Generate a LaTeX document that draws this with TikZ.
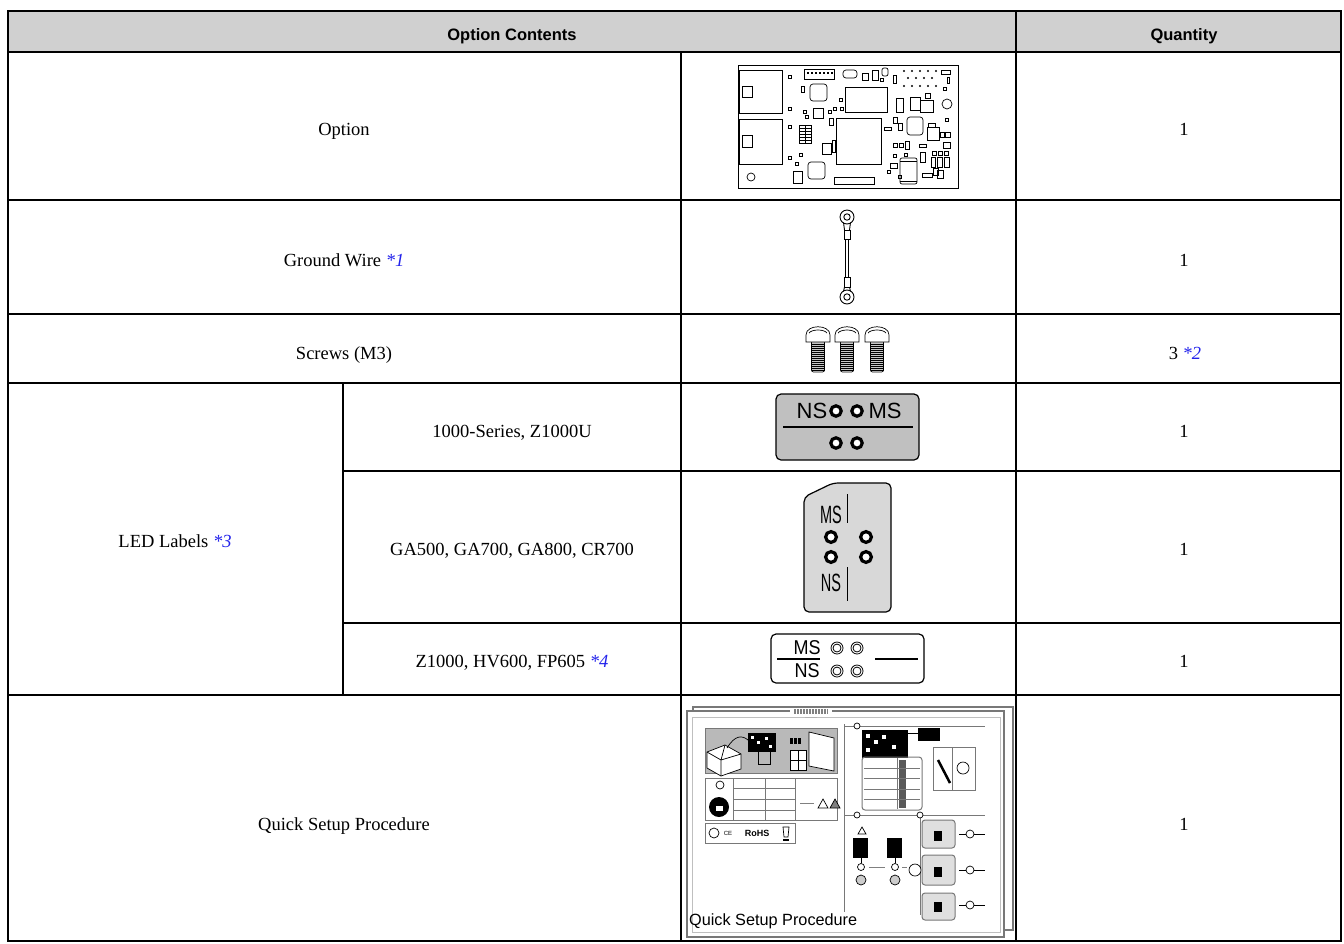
\documentclass[tikz,border=0pt]{standalone}
\usepackage{fontspec}
\setmainfont{Liberation Serif}
\setsansfont{Liberation Sans}
\usetikzlibrary{positioning}
\definecolor{headgray}{RGB}{208,208,208}
\definecolor{noteblue}{RGB}{35,35,235}
\definecolor{labgray}{RGB}{192,192,192}
\definecolor{lablight}{RGB}{216,216,216}
\definecolor{sheetgray}{RGB}{120,120,120}
\tikzset{
  rule/.style={line width=2.6pt},
  celltext/.style={font=\fontsize{18.5}{22}\selectfont, text height=12.3pt, text depth=0pt},
  headtext/.style={font=\sffamily\bfseries\fontsize{16.5}{20}\selectfont, text height=11.8pt, text depth=0pt},
  ledtext/.style={font=\sffamily\fontsize{22}{24}\selectfont, inner sep=0pt},
  ledhole/.style={line width=3.2pt, fill=white},
  part/.style={line width=0.7pt},
  qsline/.style={sheetgray, line width=1pt},
}
\newcommand{\noteref}[1]{\textcolor{noteblue}{\textit{*#1}}}
\begin{document}
\begin{tikzpicture}[x=1pt,y=-1pt]
\useasboundingbox (0,0) rectangle (1344,943);
% header band and table rules
\fill[headgray] (8,11) rectangle (1341,52);
\draw[rule] (8,11) rectangle (1341,941);
\foreach \y in {52,200,314,383,695} \draw[rule] (8,\y) -- (1341,\y);
\foreach \y in {471,623} \draw[rule] (343,\y) -- (1341,\y);
\draw[rule] (1016,11) -- (1016,941);
\draw[rule] (681,52) -- (681,941);
\draw[rule] (343,383) -- (343,695);

% texts
\node[headtext] (hcont) at (512,35) {Option Contents};
\node[headtext] (hqty) at (1184,35) {Quantity};
\node[celltext] (topt) at (344,129) {Option};
\node[celltext] (tgnd) at (344,260) {Ground Wire \noteref{1}};
\node[celltext] (tscr) at (344,353) {Screws (M3)};
\node[celltext] (tled) at (175,541) {LED Labels \noteref{3}};
\node[celltext] (tsera) at (512,431) {1000-Series, Z1000U};
\node[celltext] (tserb) at (512,549) {GA500, GA700, GA800, CR700};
\node[celltext] (tserc) at (512,661) {Z1000, HV600, FP605 \noteref{4}};
\node[celltext] (tqsp) at (344,824) {Quick Setup Procedure};
\foreach \y/\nm in {129/qa,260/qb,431/qd,549/qe,661/qf,824/qg}
  \node[celltext] (\nm) at (1184,\y) {1};
\node[celltext] (qc) at (1185,353) {3 \noteref{2}};

% option board
\draw[part] (738,65) rectangle (958,188);
\draw[part] (739,70) rectangle (782,113);
\draw[part] (739,119) rectangle (782,164);
\draw[part] (742,86) rectangle (752,97);
\draw[part] (742,135) rectangle (752,147);
\draw[part] (804,69) rectangle (834,79);
\foreach \x in {807,811,...,831} \fill (\x,72) rectangle +(2,2);
\draw[part] (845,87) rectangle (887,112);
\draw[part] (836,118) rectangle (881,164);
\draw[part,rounded corners=3] (810,84) rectangle (827,101);
\draw[part,rounded corners=3] (808,162) rectangle (825,179);
\draw[part,rounded corners=3] (907,117) rectangle (923,135);
\draw[part] (834,177) rectangle (874,184);
\draw[part] (751,177) circle (4);
\draw[part] (947,104) circle (5);
\draw[part,rounded corners=2] (900,158) rectangle (917,184);
\draw[part] (900,161) -- (917,161) (900,181) -- (917,181);
\foreach \x in {904,912,...,936} \foreach \y in {71,86} \fill (\x,\y) circle (1.2);
\foreach \x in {908,916,...,932} \fill (\x,78) circle (1.2);
\draw[part] (799,125) rectangle (811,143);
\foreach \y in {128,131,...,140} \draw[part] (799,\y) -- (811,\y);
\draw[part] (805,125) -- (805,143);
\foreach \xa/\ya/\xb/\yb in {788/75/791/78, 788/107/791/110, 788/125/791/128, 788/156/791/159,
  801/86/804/92, 813/108/823/118, 803/110/806/113, 805/115/808/118, 828/110/831/113,
  833/107/836/110, 839/98/842/101, 840/107/843/110, 829/118/833/125, 822/143/831/154,
  832/140/835/152, 799/153/802/156, 795/162/798/165, 793/171/802/183, 862/73/868/80,
  872/70/878/80, 880/78/883/81, 893/75/896/83, 941/70/950/74, 947/77/949/83, 943/87/946/90,
  896/98/903/112, 910/97/920/110, 920/100/933/112, 925/93/930/98, 893/117/897/123,
  884/127/891/130, 898/123/902/130, 928/123/935/127, 927/127/939/140, 940/132/944/137,
  945/132/950/137, 945/118/948/121, 893/143/897/147, 899/143/903/147, 905/141/909/149,
  919/144/926/147, 920/152/925/162, 932/151/936/155, 938/151/942/155, 944/151/948/155,
  931/157/935/167, 937/157/942/167, 944/157/949/167, 943/142/950/148, 933/168/938/175,
  937/170/943/178, 890/163/897/168, 887/170/890/173, 898/175/901/178, 922/173/932/177,
  893/154/896/157, 904/153/907/156}
  \draw[part] (\xa,\ya) rectangle (\xb,\yb);
\draw[part,rounded corners=3] (843,70) rectangle (857,78);
\draw[part,rounded corners=2] (882,68) rectangle (888,76);

% ground wire
\draw[line width=0.9pt] (847,217) circle (7) (847,217) circle (3.2);
\draw[line width=0.9pt] (843.5,222.5) -- (844.5,230) (850.5,222.5) -- (849.5,230);
\draw[line width=0.9pt] (844,230) rectangle (850,239);
\draw[line width=0.9pt] (845.5,239) -- (845.5,277) (848.5,239) -- (848.5,277);
\draw[line width=0.9pt] (844,277) rectangle (850,287);
\draw[line width=0.9pt] (844.5,287) -- (843.5,291.5) (849.5,287) -- (850.5,291.5);
\draw[line width=0.9pt] (847,297) circle (7) (847,297) circle (3.2);

% screws
\foreach \cx in {818,847,877} {
  \fill[gray!45] (\cx-6.5,342) rectangle (\cx+6.5,371);
  \foreach \y in {344,346,...,370} \draw[line width=0.5pt] (\cx-6.5,\y) -- (\cx+6.5,\y);
  \draw[part,rounded corners=2] (\cx-6.5,342) -- (\cx-6.5,372) -- (\cx+6.5,372) -- (\cx+6.5,342);
  \draw[part,fill=white] (\cx-12,342) -- (\cx-12,335) .. controls (\cx-12,324) and (\cx+12,324) .. (\cx+12,335) -- (\cx+12,342) -- cycle;
  \draw[part] (\cx-9,333) .. controls (\cx-6,329) and (\cx+6,329) .. (\cx+9,333);
}

% LED label 1000-Series
\draw[line width=1.2pt, fill=labgray, rounded corners=5] (776,394) rectangle (919,460);
\node[ledtext] (lans) at (812,411) {NS};
\node[ledtext] (lams) at (885,411) {MS};
\draw[line width=1.2pt] (783,427) -- (913,427);
\foreach \x in {836,857} \foreach \y in {411,443} \draw[ledhole] (\x,\y) circle (5.2);

% LED label GA-series
\draw[line width=1.2pt, fill=lablight, rounded corners=5] (804,497) -- (833,483) -- (891,483) -- (891,612) -- (804,612) -- cycle;
\draw[line width=1pt] (847,494) -- (847,523) (847,567) -- (847,601);
\node[ledtext, font=\sffamily\fontsize{25}{26}\selectfont, xscale=0.58] (lbms) at (831,515) {MS};
\node[ledtext, font=\sffamily\fontsize{25}{26}\selectfont, xscale=0.58] (lbns) at (831,583) {NS};
\foreach \x in {831,866} \foreach \y in {537,557} \draw[ledhole] (\x,\y) circle (5.4);

% LED label Z1000
\draw[line width=1.2pt, fill=white, rounded corners=5] (771,634) rectangle (924,683);
\node[ledtext, font=\sffamily\fontsize{20}{21}\selectfont, xscale=0.9] (lcms) at (807,648) {MS};
\node[ledtext, font=\sffamily\fontsize{20}{21}\selectfont, xscale=0.9] (lcns) at (807,671) {NS};
\draw[line width=1.5pt] (777,659) -- (820,659) (875,659) -- (918,659);
\foreach \x in {837,857} \foreach \y in {648,671} {
  \draw[line width=0.8pt] (\x,\y) circle (6);
  \draw[line width=0.8pt] (\x,\y) circle (4);
}

% quick setup procedure sheets
\draw[qsline, line width=1.5pt] (693,716) -- (693,707) -- (1013,707) -- (1013,930) -- (1004,930);
\draw[qsline, line width=1.5pt, fill=white] (687,711) rectangle (1004,937);
\draw[gray!50, line width=0.6pt] (692,717) rectangle (1000,932);
\fill[white] (790,708) rectangle (832,716);
\foreach \x in {794,795.5,...,828} \draw[gray, line width=0.5pt] (\x,709) -- (\x,714);
\draw[gray!60, line width=0.5pt] (805,717) -- (817,717);
% left column
\draw[qsline, fill=gray!55] (705,728) rectangle (837,773);
\draw[part, fill=white] (707,752) -- (725,745) -- (741,754) -- (741,769) -- (721,776) -- (707,768) -- cycle;
\draw[part] (725,745) -- (721,760) -- (707,752) (721,760) -- (741,754) (721,760) -- (721,776);
\draw[part] (727,748) .. controls (735,735) and (742,735) .. (748,740);
\fill (748,733) rectangle (776,752);
\foreach \xa/\ya in {751/736,757/741,765/737,769/745} \fill[white] (\xa,\ya) rectangle +(3,3);
\draw[part] (758,752) -- (758,764) -- (770,764) -- (770,752);
\foreach \x in {790,794,798} \fill (\x,738) rectangle +(2.5,6);
\draw[part, fill=white] (790,750) rectangle (806,770);
\draw[part] (798,750) -- (798,770) (790,760) -- (806,760);
\draw[part, fill=white] (809,732) -- (834,738) -- (834,771) -- (809,766) -- cycle;
\draw[qsline] (705,778) rectangle (837,820);
\draw[qsline] (733,778) -- (733,820) (765,778) -- (765,820) (795,778) -- (795,820);
\foreach \y in {788,799,810} \draw[qsline] (733,\y) -- (795,\y);
\fill[black] (719,807) circle (10);
\fill[white] (716,806) rectangle (723,811);
\draw[part] (720,785) circle (4);
\draw[gray, line width=1pt] (800,803) -- (814,803);
\draw[part] (818,808) -- (823,799) -- (828,808) -- cycle;
\draw[part, fill=gray] (830,808) -- (835,799) -- (840,808) -- cycle;
\draw[qsline] (705,823) rectangle (795,843);
\draw[part] (714,833) circle (5);
\node[font=\sffamily\fontsize{6}{6}\selectfont, inner sep=0pt] (qsce) at (728,833) {CE};
\node[font=\sffamily\bfseries\fontsize{9}{9}\selectfont, inner sep=0pt] (qsrohs) at (757,833) {RoHS};
\draw[part] (783,827) -- (789,827) -- (788,837) -- (784,837) -- cycle;
\fill (783,839) rectangle (789,841);
% right column
\draw[qsline] (844,724) -- (844,912);
\draw[qsline] (844,726) -- (985,726) (844,815) -- (985,815);
\draw[qsline] (920,815) -- (920,915);
\foreach \x/\y in {857/726,857/815,920/815} \draw[part, fill=white] (\x,\y) circle (3);
\fill (862,730) rectangle (908,758);
\foreach \xa/\ya in {866/734,874/740,882/735,892/745,866/748} \fill[white] (\xa,\ya) rectangle +(4,4);
\fill (918,728) rectangle (940,741);
\draw[part] (908,733) -- (918,733);
\draw[qsline, rounded corners=3] (862,757) rectangle (922,810);
\draw[qsline] (897,758) -- (897,809);
\fill[gray!70!black] (899,760) rectangle (906,808);
\foreach \y in {768,778,789,799} \draw[qsline] (864,\y) -- (920,\y);
\draw[qsline] (933,747) rectangle (975,790);
\draw[qsline] (952,747) -- (952,790);
\draw[line width=2.5pt] (938,760) -- (950,783);
\draw[part] (963,768) circle (6);
\draw[part] (858,834) -- (862,827) -- (866,834) -- cycle;
\fill (853,838) rectangle (868,858);
\fill (887,838) rectangle (902,858);
\foreach \x in {861,895} {
  \draw[part] (\x,858) -- (\x,863);
  \draw[part] (\x,867) circle (3.5);
  \draw[part, fill=gray!40] (\x,880) circle (5);
}
\draw[part, fill=white] (915,870) circle (6);
\draw[gray, line width=1pt] (869,867) -- (885,867) (902,867) -- (907,867);
\foreach \ya/\yb/\ym in {820/848/834, 855/885/870, 893/920/905} {
  \draw[qsline, fill=gray!25, rounded corners=3] (922,\ya) rectangle (955,\yb);
  \fill (934,\ym-3) rectangle +(8,10);
  \draw[part] (959,\ym) -- (966,\ym);
  \draw[part, fill=white] (970,\ym) circle (4);
  \draw[part] (974,\ym) -- (985,\ym);
}
\node[font=\sffamily\fontsize{16.25}{18}\selectfont, anchor=west, inner sep=0pt] (qstitle) at (689,921) {Quick Setup Procedure};
\end{tikzpicture}
\end{document}
